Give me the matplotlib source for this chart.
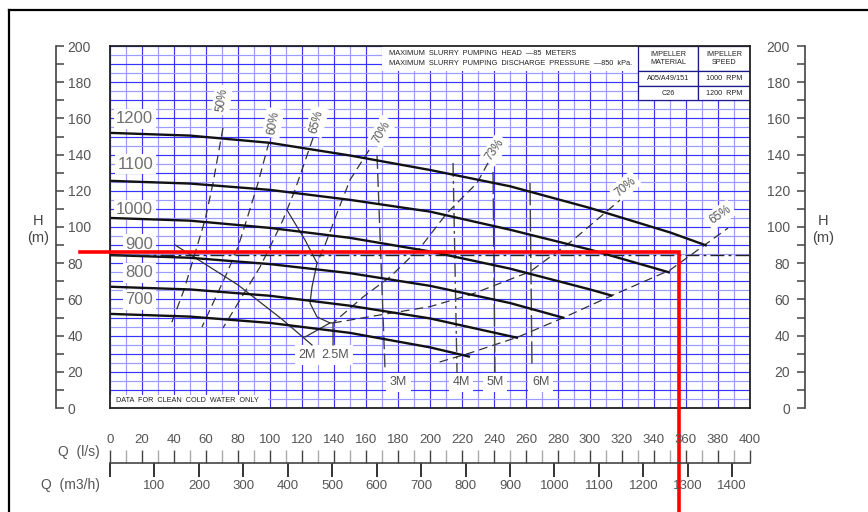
import numpy as np
import matplotlib
matplotlib.use("Agg")
import matplotlib.pyplot as plt
from matplotlib.patches import Rectangle
from matplotlib.lines import Line2D

plt.rcParams["font.family"] = ["Liberation Sans", "DejaVu Sans"]

# head curves per impeller speed (rpm): flow Q in l/s, head H in m
q_1200 = [0, 50, 100, 150, 200, 250, 300, 350, 373]
h_1200 = [152, 150.5, 146.5, 139.5, 131.5, 122.5, 110.5, 97, 89.7]
q_1100 = [0, 50, 100, 150, 200, 250, 300, 350]
h_1100 = [125.5, 124, 120.5, 115, 108.5, 98.5, 87.5, 74.8]
q_1000 = [0, 50, 100, 150, 200, 250, 300, 314]
h_1000 = [105, 103.5, 99.5, 94, 86.5, 77, 65.5, 62]
q_900 = [0, 50, 100, 150, 200, 250, 284]
h_900 = [84.5, 83, 79.5, 74.5, 67.5, 58, 49.7]
q_800 = [0, 50, 100, 150, 200, 255]
h_800 = [67, 65.5, 62, 56.5, 49.5, 38.7]
q_700 = [0, 50, 100, 150, 200, 225]
h_700 = [52, 50.5, 47, 41.5, 33.5, 28.3]
speed_labels = ["1200", "1100", "1000", "900", "800", "700"]
speed_label_h = [159.7, 134.8, 109.4, 90.6, 74.6, 59.7]

# iso-efficiency lines
eff50_q = [70.6, 64.4, 59.4, 53.75, 46.25, 37.5]
eff50_h = [154.7, 124.3, 103.9, 87.3, 65.2, 44.75]
eff60_q = [99.4, 92.5, 85.4, 80, 73.1, 57.5]
eff60_h = [147, 124.3, 103.9, 89, 74.6, 44.75]
eff65_q = [126.9, 115.6, 108.1, 100, 93.75, 70.6]
eff65_h = [149.2, 120.4, 103.9, 89, 77.9, 44.2]
eff70a_q = [161.9, 150, 141.9, 134.4, 129.4]
eff70a_h = [142.5, 126, 107.7, 90.1, 80.1]
eff70b_q = [139.4, 168.75, 200, 225, 262.5, 289.4, 318.75]
eff70b_h = [47, 51.4, 56, 62.5, 75.3, 92.8, 114.9]
eff73_q = [236.25, 229.4, 210.6, 193.75, 175, 158.1, 139.4]
eff73_h = [135.4, 124.3, 107.7, 88.4, 72.4, 61.3, 47]
eff65b_q = [206, 225, 255, 284.4, 314.4, 350, 386.25]
eff65b_h = [25.4, 30.4, 39.2, 50.3, 62.4, 76.2, 99.4]
eff_labels = ["50%", "60%", "65%", "70%", "73%", "70%", "65%"]
eff_label_q = [70, 101.9, 129.2, 169.8, 240.6, 321.9, 381.25]
eff_label_h = [170.2, 157.5, 158.2, 152.6, 142.5, 122.3, 106.6]
eff_label_rot = [82, 80, 75, 60, 55, 40, 35]

# NPSH required lines
npsh2_q = [40.6, 80, 108.1, 126.25]
npsh2_h = [90.1, 68, 48.6, 34.8]
npsh2v_q = [121.9, 137.5]
npsh2v_h = [39.2, 47]
npsh25_q = [110.6, 121.9, 129.4, 126.25, 125, 129.4, 137.5, 139.4, 139.4]
npsh25_h = [109.4, 92.8, 80.1, 66.9, 58, 50.3, 47, 47, 34.8]
npsh3_q = [166.9, 171.9]
npsh3_h = [139.8, 21]
npsh4_q = [214.4, 216.9]
npsh4_h = [135.4, 19.3]
npsh5_q = [239.4, 240.6]
npsh5_h = [130.4, 19.3]
npsh6_q = [262.5, 263.75]
npsh6_h = [124.3, 22.6]
npsh_labels = ["2M", "2.5M", "3M", "4M", "5M", "6M"]
npsh_label_q = [123.4, 140.6, 180.2, 219.4, 240.6, 269.2]
npsh_label_h = [29.3, 29.3, 14.2, 14.2, 14.2, 14.2]

max_head = 84.5
red_line_q = [-18.75, 355.8, 355.8]
red_line_h = [86.35, 86.35, -60]

W, H = 868, 512
fig = plt.figure(figsize=(W / 100, H / 100), dpi=100)
fig.patch.set_facecolor("white")

x0, x1, y_top, y_bot = 110, 750, 46, 408
ax = fig.add_axes([x0 / W, 1 - y_bot / H, (x1 - x0) / W, (y_bot - y_top) / H])
ax.set_xlim(0, 400)
ax.set_ylim(0, 200)
ax.set_xticks(np.arange(0, 401, 20))
ax.set_xticks(np.arange(10, 400, 20), minor=True)
ax.set_yticks(np.arange(0, 201, 10))
ax.set_yticks(np.arange(5, 200, 10), minor=True)
ax.tick_params(which="both", length=0, labelbottom=False, labelleft=False)
ax.set_axisbelow(True)
ax.grid(which="major", color="#3535ff", lw=0.85)
ax.grid(which="minor", color="#9a9aff", lw=0.85)
for s in ax.spines.values():
    s.set_color("#222222")
    s.set_linewidth(1.3)
    s.set_zorder(6)

txt_col = "#555555"

# head curves
for q, h in [(q_1200, h_1200), (q_1100, h_1100), (q_1000, h_1000),
             (q_900, h_900), (q_800, h_800), (q_700, h_700)]:
    ax.plot(q, h, color="#111111", lw=1.7, zorder=5, solid_capstyle="butt")
for lab, hh in zip(speed_labels, speed_label_h):
    ax.text(27, hh, lab, ha="right", va="center", fontsize=12, color="#707070", zorder=4,
            bbox=dict(boxstyle="square,pad=0.15", fc="white", ec="none"))

# efficiency lines
for q, h in [(eff50_q, eff50_h), (eff60_q, eff60_h), (eff65_q, eff65_h),
             (eff70a_q, eff70a_h), (eff70b_q, eff70b_h), (eff73_q, eff73_h),
             (eff65b_q, eff65b_h)]:
    ax.plot(q, h, color="#333333", lw=0.9, ls=(0, (7, 4)), zorder=4.5)
for lab, q, h, r in zip(eff_labels, eff_label_q, eff_label_h, eff_label_rot):
    ax.text(q, h, lab, ha="center", va="center", rotation=r, fontsize=8.5, color=txt_col,
            zorder=4, bbox=dict(boxstyle="square,pad=0.25", fc="white", ec="none"))

# npsh lines
ax.plot(npsh2_q, npsh2_h, color="#333333", lw=0.9, zorder=4.5)
ax.plot(npsh2v_q, npsh2v_h, color="#333333", lw=0.9, zorder=4.5)
ax.plot(npsh25_q, npsh25_h, color="#333333", lw=0.9, zorder=4.5)
ax.plot(npsh3_q, npsh3_h, color="#444444", lw=1, ls=(0, (10, 3)), zorder=4.5)
ax.plot(npsh4_q, npsh4_h, color="#444444", lw=1, ls=(0, (10, 3, 2, 3)), zorder=4.5)
ax.plot(npsh5_q, npsh5_h, color="#444444", lw=1, ls=(0, (16, 3)), zorder=4.5)
ax.plot(npsh6_q, npsh6_h, color="#444444", lw=1, ls=(0, (16, 3)), zorder=4.5)
for lab, q, h in zip(npsh_labels, npsh_label_q, npsh_label_h):
    ax.text(q, h, lab, ha="center", va="center", fontsize=9, color=txt_col, zorder=4,
            bbox=dict(boxstyle="square,pad=0.3", fc="white", ec="none"))

# maximum slurry head line
ax.axhline(max_head, color="#222222", lw=1, ls=(0, (10, 3, 2, 3)), zorder=5)

# notes and table
ax.add_patch(Rectangle((170, 186), 160, 14, fc="white", ec="none", zorder=3))
ax.text(174.4, 195.9, "MAXIMUM  SLURRY  PUMPING  HEAD  \u201485  METERS",
        fontsize=5.3, color="#222222", va="center", zorder=4)
ax.text(174.4, 190.2, "MAXIMUM  SLURRY  PUMPING  DISCHARGE  PRESSURE  \u2014850  kPa.",
        fontsize=5.3, color="#222222", va="center", zorder=4)
cells = [(330, 186, 37.5, 14, "IMPELLER\nMATERIAL"), (367.5, 186, 32.5, 14, "IMPELLER\nSPEED"),
         (330, 178, 37.5, 8, "A05/A49/151"), (367.5, 178, 32.5, 8, "1000  RPM"),
         (330, 170, 37.5, 8, "C26"), (367.5, 170, 32.5, 8, "1200  RPM")]
for cx, cy, cw, ch, lab in cells:
    ax.add_patch(Rectangle((cx, cy), cw, ch, fc="white", ec="#1a1a8c", lw=0.9, zorder=3))
    ax.text(cx + cw / 2, cy + ch / 2, lab, ha="center", va="center", fontsize=5.2,
            color="#222222", zorder=4, linespacing=1.25)
ax.add_patch(Rectangle((0, 0), 99, 7.2, fc="white", ec="none", zorder=3))
ax.text(3.75, 4.0, "DATA  FOR  CLEAN  COLD  WATER  ONLY", fontsize=5.2, color="#222222",
        va="center", zorder=4)

# red marker line
ax.plot(red_line_q, red_line_h, color="#ff0000", lw=2.6, clip_on=False, zorder=20,
        solid_joinstyle="miter")

# head axes at left and right
for xpix, side in [(56, "right"), (805, "left")]:
    a = fig.add_axes([xpix / W, 1 - y_bot / H, 0.0001, (y_bot - y_top) / H])
    a.set_ylim(0, 200)
    a.patch.set_visible(False)
    a.set_xticks([])
    for k, s in a.spines.items():
        s.set_visible(k == side)
    a.spines[side].set_color("#444444")
    a.spines[side].set_linewidth(1.2)
    if side == "right":
        a.yaxis.tick_right()
    else:
        a.yaxis.tick_left()
    a.set_yticks(np.arange(0, 201, 20))
    a.set_yticks(np.arange(10, 200, 20), minor=True)
    a.tick_params(axis="y", which="both", direction="out", length=5.8, width=1.1,
                  color="#444444", labelsize=10, labelcolor=txt_col,
                  pad=2.5 if side == "right" else 5)

fig.text(38 / W, 1 - 221 / H, "H", ha="center", va="center", fontsize=10.5, color="#444444")
fig.text(38 / W, 1 - 238 / H, "(m)", ha="center", va="center", fontsize=10.5, color="#444444")
fig.text(823 / W, 1 - 221 / H, "H", ha="center", va="center", fontsize=10.5, color="#444444")
fig.text(823 / W, 1 - 238 / H, "(m)", ha="center", va="center", fontsize=10.5, color="#444444")

# flow axes at bottom
aq = fig.add_axes([x0 / W, 1 - 463 / H, (x1 - x0) / W, 0.0001])
aq.set_xlim(0, 400)
aq.patch.set_visible(False)
aq.set_yticks([])
for k, s in aq.spines.items():
    s.set_visible(k == "top")
aq.spines["top"].set_color("#444444")
aq.spines["top"].set_linewidth(1.2)
aq.xaxis.tick_top()
aq.set_xticks(np.arange(0, 401, 20))
aq.set_xticks(np.arange(10, 400, 20), minor=True)
aq.tick_params(axis="x", which="major", direction="out", length=9.4, width=1, color="#444444",
               labelsize=9.5, labelcolor=txt_col, pad=3)
aq.tick_params(axis="x", which="minor", direction="out", length=9.4, width=1, color="#aaaaaa")

m3h = aq.secondary_xaxis("bottom", functions=(lambda q: q * 3.6, lambda m: m / 3.6))
m3h_ticks = np.arange(0, 1401, 100)
m3h.set_xticks(m3h_ticks)
m3h.set_xticklabels([""] + [str(v) for v in m3h_ticks[1:]])
m3h.tick_params(axis="x", direction="out", length=10, width=1.4, color="#333333",
                labelsize=9.5, labelcolor=txt_col, pad=2)
m3h.spines["bottom"].set_visible(False)

fig.text(100 / W, 1 - 452 / H, "Q  (l/s)", ha="right", va="center", fontsize=10, color=txt_col)
fig.text(100 / W, 1 - 485 / H, "Q  (m3/h)", ha="right", va="center", fontsize=10, color=txt_col)

# outer drawing frame
fig.add_artist(Line2D([9 / W, 9 / W], [0, 1 - 10 / H], color="black", lw=1.6))
fig.add_artist(Line2D([9 / W, 1], [1 - 10 / H, 1 - 10 / H], color="black", lw=1.6))

fig.savefig("out.png", dpi=100)
